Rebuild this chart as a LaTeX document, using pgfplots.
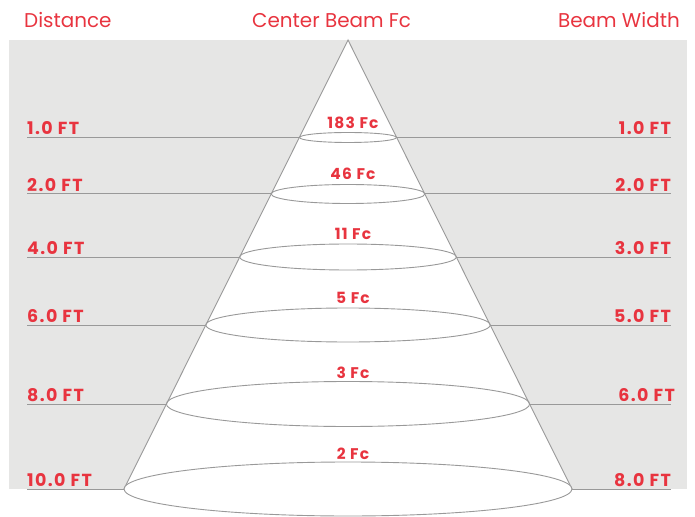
\documentclass[border=0pt]{standalone}
\usepackage{pgfplots}
\pgfplotsset{compat=1.18}
\usepackage{fontspec}
\setmainfont{Poppins}
\newfontfamily\labfont{Poppins}[Numbers=Monospaced, LetterSpace=8]
\definecolor{bgG}{HTML}{E6E6E5}
\definecolor{lnG}{HTML}{999999}
\definecolor{redT}{HTML}{E8343F}
\tikzset{lab/.style={inner sep=0pt, text=redT, font=\labfont\fontsize{17.5}{20}\selectfont\bfseries},
         fcl/.style={anchor=base, inner sep=0pt, text=redT, font=\labfont\fontsize{15.5}{18}\selectfont\bfseries},
         hdr/.style={inner sep=0pt, text=redT, font=\fontsize{20}{24}\selectfont}}
\begin{document}
\begin{tikzpicture}
\begin{axis}[name=ax, hide axis, scale only axis, x=1bp, y=1bp, y dir=reverse,
  xmin=0, xmax=695, ymin=0, ymax=517, clip=false]
% background
\addplot[draw=none, fill=bgG] coordinates {(9,40) (687,40) (687,489) (9,489)} -- cycle;
% cone
\addplot[draw=lnG, fill=white, line width=0.9bp] coordinates {(124,489) (348,40) (572,489)};
% horizontal lines (left)
\addplot[lnG, line width=1bp] coordinates {(27,137.5) (299.5,137.5)};
\addplot[lnG, line width=1bp] coordinates {(27,194) (271.2,194)};
\addplot[lnG, line width=1bp] coordinates {(27,257) (239.7,257)};
\addplot[lnG, line width=1bp] coordinates {(27,325) (205.8,325)};
\addplot[lnG, line width=1bp] coordinates {(27,404) (166.4,404)};
\addplot[lnG, line width=1bp] coordinates {(27,489) (124,489)};
% horizontal lines (right)
\addplot[lnG, line width=1bp] coordinates {(396.5,137.5) (671,137.5)};
\addplot[lnG, line width=1bp] coordinates {(424.8,194) (671,194)};
\addplot[lnG, line width=1bp] coordinates {(456.3,257) (671,257)};
\addplot[lnG, line width=1bp] coordinates {(490.2,325) (671,325)};
\addplot[lnG, line width=1bp] coordinates {(529.6,404) (671,404)};
\addplot[lnG, line width=1bp] coordinates {(572,489) (671,489)};
% ellipses
\draw[lnG, line width=0.9bp] (axis cs:348,137.5) ellipse [x radius=48.5, y radius=5];
\draw[lnG, line width=0.9bp] (axis cs:348,194) ellipse [x radius=76.8, y radius=9.5];
\draw[lnG, line width=0.9bp] (axis cs:348,257) ellipse [x radius=108.3, y radius=13];
\draw[lnG, line width=0.9bp] (axis cs:348,325) ellipse [x radius=142.2, y radius=17];
\draw[lnG, line width=0.9bp] (axis cs:348,404) ellipse [x radius=181.6, y radius=22.5];
\draw[lnG, line width=0.9bp, fill=white] (axis cs:348,489) ellipse [x radius=224, y radius=27];
% headers
\node[hdr, anchor=base west] at (axis cs:24,27.7) {Distance};
\node[hdr, anchor=base west] at (axis cs:252,27.7) {Center Beam Fc};
\node[hdr, anchor=base east] at (axis cs:680,27.7) {Beam Width};
% left labels
\node[lab, anchor=base west] at (axis cs:27,135) {1.0 FT};
\node[lab, anchor=base west] at (axis cs:27,191.5) {2.0 FT};
\node[lab, anchor=base west] at (axis cs:27,254.5) {4.0 FT};
\node[lab, anchor=base west] at (axis cs:27,322.5) {6.0 FT};
\node[lab, anchor=base west] at (axis cs:27,401.5) {8.0 FT};
\node[lab, anchor=base west] at (axis cs:27,486) {10.0 FT};
% right labels
\node[lab, anchor=base east] at (axis cs:671,135) {1.0 FT};
\node[lab, anchor=base east] at (axis cs:671,191.5) {2.0 FT};
\node[lab, anchor=base east] at (axis cs:671,254.5) {3.0 FT};
\node[lab, anchor=base east] at (axis cs:671,322.5) {5.0 FT};
\node[lab, anchor=base east] at (axis cs:675,401.5) {6.0 FT};
\node[lab, anchor=base east] at (axis cs:671,486) {8.0 FT};
% Fc labels
\node[fcl] at (axis cs:353,128.3) {183 Fc};
\node[fcl] at (axis cs:353,179.5) {46 Fc};
\node[fcl] at (axis cs:353,240) {11 Fc};
\node[fcl] at (axis cs:353,303) {5 Fc};
\node[fcl] at (axis cs:353,378) {3 Fc};
\node[fcl] at (axis cs:353,459) {2 Fc};
\end{axis}
\pgfresetboundingbox
\path (ax.south west) rectangle (ax.north east);
\end{tikzpicture}
\end{document}
